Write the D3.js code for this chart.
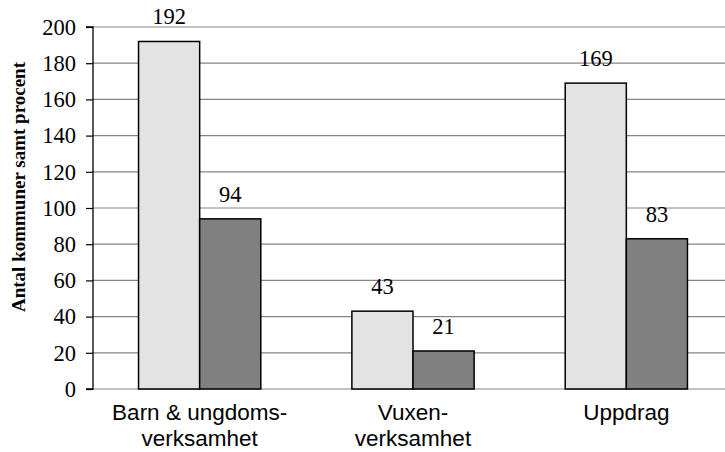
<!DOCTYPE html>
<html>
<head>
<meta charset="utf-8">
<script src="https://cdn.jsdelivr.net/npm/d3@7"></script>
<style>
  html, body { margin: 0; padding: 0; background: #fff; }
  svg { display: block; }
  .serif { font-family: "Liberation Serif", "Times New Roman", Times, serif; }
  .sans { font-family: "Liberation Sans", Arial, Helvetica, sans-serif; }
</style>
</head>
<body>
<svg id="chart" width="725" height="452"></svg>
<script>
const categories = [["Barn & ungdoms-", "verksamhet"], ["Vuxen-", "verksamhet"], ["Uppdrag"]];
const categoryKeys = ["Barn & ungdomsverksamhet", "Vuxenverksamhet", "Uppdrag"];
const seriesA = [192, 43, 169];
const seriesB = [94, 21, 83];
const seriesKeys = ["A", "B"];
const seriesColors = ["#e3e3e3", "#808080"];
const yTicks = [0, 20, 40, 60, 80, 100, 120, 140, 160, 180, 200];
const yTitle = "Antal kommuner samt procent";

const svg = d3.select("#chart");
const mLeft = 93, mRight = 733, mTop = 27, mBottom = 389;

const x0 = d3.scaleBand().domain(categoryKeys).range([mLeft, mRight])
  .paddingInner(0.427).paddingOuter(0.2135);
const x1 = d3.scaleBand().domain(seriesKeys).range([0, x0.bandwidth()]);
const y = d3.scaleLinear().domain([0, 200]).range([mBottom, mTop]);

// gridlines
svg.append("g").selectAll("line").data(yTicks).join("line")
  .attr("x1", mLeft).attr("x2", 725)
  .attr("y1", d => y(d)).attr("y2", d => y(d))
  .attr("stroke", "#858585").attr("stroke-width", 1.2);

// y axis
const yAxis = d3.axisLeft(y).tickValues(yTicks).tickSize(7).tickPadding(10).tickFormat(d3.format("d"));
const ga = svg.append("g").attr("transform", `translate(${mLeft},0)`).call(yAxis);
ga.attr("font-family", null).attr("font-size", null).attr("class", "serif");
ga.select(".domain").attr("stroke", "#000").attr("stroke-width", 1.3).attr("d", `M-7,${y(200)}H0V${y(0)}H-7`);
ga.selectAll(".tick line").attr("stroke", "#000").attr("stroke-width", 1.2);
ga.selectAll(".tick text")
  .attr("class", "serif")
  .style("font-size", "22.5px").attr("fill", "#000");

// bars
const data = categoryKeys.map((c, i) => ({ c, vals: [seriesA[i], seriesB[i]] }));
const groups = svg.append("g").selectAll("g").data(data).join("g")
  .attr("transform", d => `translate(${x0(d.c)},0)`);
groups.selectAll("rect").data(d => d.vals.map((v, j) => ({ k: seriesKeys[j], v, j })))
  .join("rect")
  .attr("x", d => x1(d.k)).attr("width", x1.bandwidth())
  .attr("y", d => y(d.v)).attr("height", d => y(0) - y(d.v))
  .attr("fill", d => seriesColors[d.j])
  .attr("stroke", "#000").attr("stroke-width", 1.5);
groups.selectAll("text").data(d => d.vals.map((v, j) => ({ k: seriesKeys[j], v, j })))
  .join("text")
  .attr("class", "serif")
  .attr("x", d => x1(d.k) + x1.bandwidth() / 2)
  .attr("y", d => y(d.v) - 17)
  .attr("text-anchor", "middle")
  .style("font-size", "22.5px").attr("fill", "#000")
  .text(d => d.v);

// category labels
const cl = svg.append("g").selectAll("text").data(categoryKeys).join("text")
  .attr("class", "sans")
  .attr("x", d => x0(d) + x0.bandwidth() / 2)
  .attr("y", 420)
  .attr("text-anchor", "middle")
  .style("font-size", "22.5px").attr("fill", "#000");
cl.each(function (d, i) {
  const t = d3.select(this);
  categories[i].forEach((line, k) => {
    t.append("tspan").attr("x", x0(d) + x0.bandwidth() / 2).attr("dy", k === 0 ? 0 : 25.5).text(line);
  });
});

// y title
svg.append("text")
  .attr("class", "serif")
  .attr("transform", "translate(25,187) rotate(-90)")
  .attr("text-anchor", "middle")
  .style("font-weight", "bold")
  .style("font-size", "19px").attr("fill", "#000")
  .text(yTitle);
</script>
</body>
</html>
